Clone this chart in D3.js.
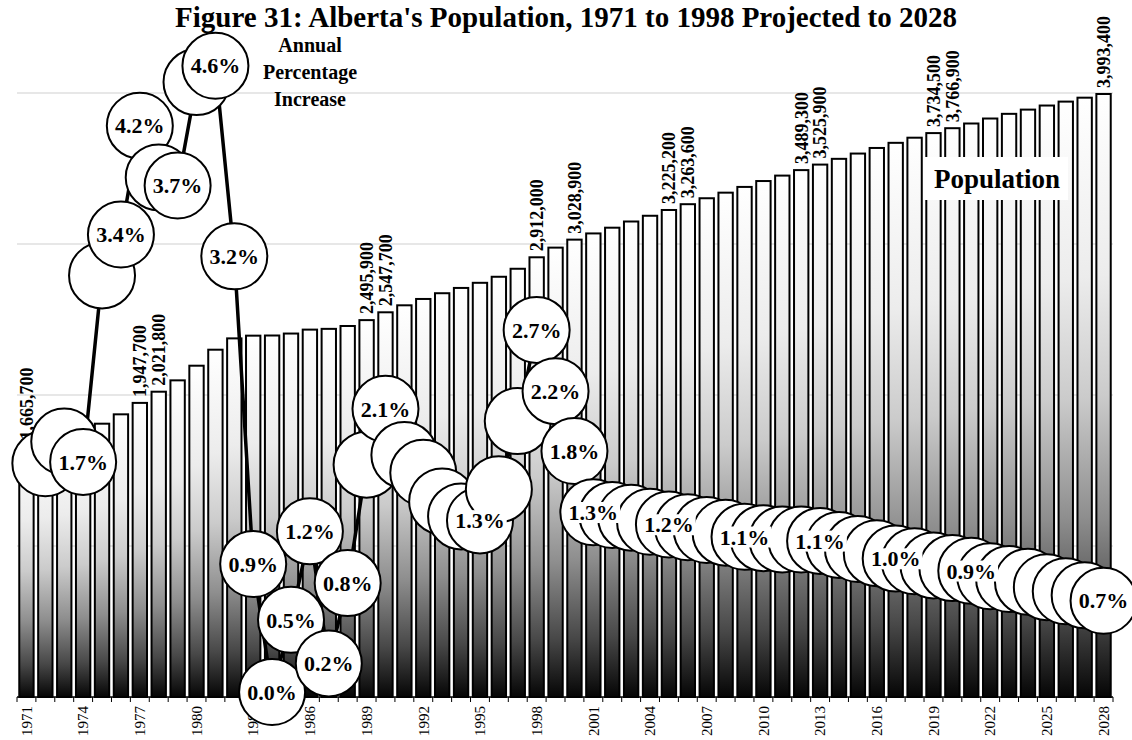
<!DOCTYPE html>
<html>
<head>
<meta charset="utf-8">
<script src="https://cdn.jsdelivr.net/npm/d3@7"></script>
<style>
  body { margin: 0; background: #fff; }
  svg { display: block; }
</style>
</head>
<body>
<svg id="chart" width="1132" height="740"></svg>
<script>
// Alberta population by year (actual to 1998, projected to 2028)
const years = [1971,1972,1973,1974,1975,1976,1977,1978,1979,1980,
               1981,1982,1983,1984,1985,1986,1987,1988,1989,1990,
               1991,1992,1993,1994,1995,1996,1997,1998,1999,2000,
               2001,2002,2003,2004,2005,2006,2007,2008,2009,2010,
               2011,2012,2013,2014,2015,2016,2017,2018,2019,2020,
               2021,2022,2023,2024,2025,2026,2027,2028];

const population = [1665700,1694000,1725000,1754000,1810000,1872000,1947700,2021800,2097000,2194000,
                    2300000,2375000,2393000,2394000,2407000,2433000,2438000,2457000,2495900,2547700,
                    2594000,2636000,2674000,2709000,2743000,2783000,2836000,2912000,2976000,3028900,
                    3070000,3108000,3149000,3187000,3225200,3263600,3303000,3340000,3378000,3417000,
                    3453000,3489300,3525900,3564000,3599000,3636000,3670000,3704000,3734500,3766900,
                    3798000,3831000,3862000,3890000,3917000,3943000,3969000,3993400];

// Annual percentage increase (no value for the first year)
const growthPct = [null,1.68,1.84,1.69,3.06,3.36,4.16,3.78,3.72,4.48,
                   4.60,3.20,0.94,0.00,0.53,1.18,0.21,0.80,1.67,2.08,
                   1.74,1.61,1.40,1.29,1.26,1.49,1.99,2.66,2.21,1.77,
                   1.32,1.30,1.28,1.25,1.23,1.21,1.19,1.17,1.14,1.13,
                   1.12,1.12,1.11,1.08,1.05,1.02,0.98,0.96,0.93,0.91,
                   0.89,0.85,0.83,0.81,0.77,0.74,0.71,0.67];

const popLabelYears = [1971,1977,1978,1989,1990,1998,2000,2005,2006,2012,2013,2019,2020,2028];
const growthLabelYears = [1974,1976,1977,1979,1981,1982,1983,1984,1985,1986,1987,1988,
                          1990,1995,1998,1999,2000,2001,2005,2009,2013,2017,2021,2028];
const tickYears = [1971,1974,1977,1980,1983,1986,1989,1992,1995,1998,
                   2001,2004,2007,2010,2013,2016,2019,2022,2025,2028];
const gridValues = [1000000,2000000,3000000,4000000];

const titleText = "Figure 31: Alberta's Population, 1971 to 1998 Projected to 2028";
const growthTitle = ["Annual", "Percentage", "Increase"];
const popTitle = "Population";

const serif = "'Liberation Serif', 'Times New Roman', serif";

const svg = d3.select("#chart");
const left = 17, right = 1113, base = 697;

const x = d3.scaleBand().domain(years).range([left, right])
  .paddingInner(0.24).paddingOuter(0.12);
const y = d3.scaleLinear().domain([0, 4000000]).range([base, 93]);
const y2 = d3.scaleLinear().domain([0, 4.4]).range([692, 93]);
const cx = yr => x(yr) + x.bandwidth() / 2;

// vertical white-to-black fill for each bar
const defs = svg.append("defs");
const grad = defs.append("linearGradient").attr("id", "barFill")
  .attr("x1", 0).attr("y1", 0).attr("x2", 0).attr("y2", 1);
[[0, "#ffffff"], [0.3, "#ececec"], [0.5, "#cbcbcb"], [0.7, "#8e8e8e"], [0.87, "#484848"], [1, "#050505"]]
  .forEach(([o, c]) => grad.append("stop").attr("offset", o).attr("stop-color", c));

// horizontal gridlines
svg.append("g").selectAll("line").data(gridValues).join("line")
  .attr("x1", left).attr("x2", right)
  .attr("y1", d => y(d)).attr("y2", d => y(d))
  .attr("stroke", "#cfcfcf").attr("stroke-width", 1);

const rows = years.map((yr, i) => ({ year: yr, pop: population[i], pct: growthPct[i] }));

// population bars
svg.append("g").selectAll("rect").data(rows).join("rect")
  .attr("x", d => x(d.year))
  .attr("y", d => y(d.pop))
  .attr("width", x.bandwidth())
  .attr("height", d => base - y(d.pop))
  .attr("fill", "url(#barFill)")
  .attr("stroke", "#000").attr("stroke-width", 2);

// x axis: line, category boundary ticks, labels every third year
const axisG = svg.append("g");
axisG.append("line").attr("x1", left).attr("x2", right)
  .attr("y1", base).attr("y2", base).attr("stroke", "#000").attr("stroke-width", 1.5);
const bounds = years.map(yr => x(yr) - x.step() * x.paddingInner() / 2).concat([right]);
axisG.selectAll("line.tick").data(bounds).join("line").attr("class", "tick")
  .attr("x1", d => d).attr("x2", d => d)
  .attr("y1", base).attr("y2", base + 5).attr("stroke", "#000").attr("stroke-width", 1);
axisG.selectAll("text").data(tickYears).join("text")
  .attr("transform", d => `translate(${cx(d)},${base + 9}) rotate(-90)`)
  .attr("text-anchor", "end").attr("dy", "0.35em")
  .attr("font-family", serif).attr("font-size", 15).attr("fill", "#000")
  .text(d => d);

// population value labels
const fmtPop = d3.format(",");
svg.append("g").selectAll("text")
  .data(rows.filter(d => popLabelYears.includes(d.year))).join("text")
  .attr("transform", d => `translate(${cx(d.year)},${y(d.pop) - 6}) rotate(-90)`)
  .attr("text-anchor", "start").attr("dy", "0.35em")
  .attr("font-family", serif).attr("font-size", 18).attr("font-weight", "bold")
  .text(d => fmtPop(d.pop));

// growth line and circle markers
const gRows = rows.filter(d => d.pct !== null);
svg.append("path").datum(gRows)
  .attr("d", d3.line().x(d => cx(d.year)).y(d => y2(d.pct)))
  .attr("fill", "none").attr("stroke", "#000").attr("stroke-width", 3.5);

svg.append("g").selectAll("circle").data(gRows).join("circle")
  .attr("cx", d => cx(d.year)).attr("cy", d => y2(d.pct)).attr("r", 33)
  .attr("fill", "#fff").attr("stroke", "#000").attr("stroke-width", 2);

// growth labels with white backing
const fmtPct = d => d.toFixed(1) + "%";
const labG = svg.append("g");
gRows.filter(d => growthLabelYears.includes(d.year)).forEach(d => {
  const g = labG.append("g");
  const t = g.append("text")
    .attr("x", cx(d.year)).attr("y", y2(d.pct)).attr("dy", "0.35em")
    .attr("text-anchor", "middle")
    .attr("font-family", serif).attr("font-size", 22).attr("font-weight", "bold")
    .text(fmtPct(d.pct));
  const bb = t.node().getBBox();
  g.insert("rect", "text")
    .attr("x", bb.x - 2).attr("y", bb.y + 2)
    .attr("width", bb.width + 4).attr("height", bb.height - 4)
    .attr("fill", "#fff");
});

// series captions
svg.append("g").selectAll("text").data(growthTitle).join("text")
  .attr("x", 310).attr("y", (d, i) => 52 + i * 27)
  .attr("text-anchor", "middle")
  .attr("font-family", serif).attr("font-size", 20).attr("font-weight", "bold")
  .text(d => d);

const popG = svg.append("g");
popG.append("rect").attr("x", 925).attr("y", 157).attr("width", 143).attr("height", 43).attr("fill", "#fff");
popG.append("text").attr("x", 997).attr("y", 188).attr("text-anchor", "middle")
  .attr("font-family", serif).attr("font-size", 27).attr("font-weight", "bold")
  .text(popTitle);

// title
svg.append("text").attr("x", 566).attr("y", 27).attr("text-anchor", "middle")
  .attr("font-family", serif).attr("font-size", 29).attr("font-weight", "bold")
  .text(titleText);
</script>
</body>
</html>
